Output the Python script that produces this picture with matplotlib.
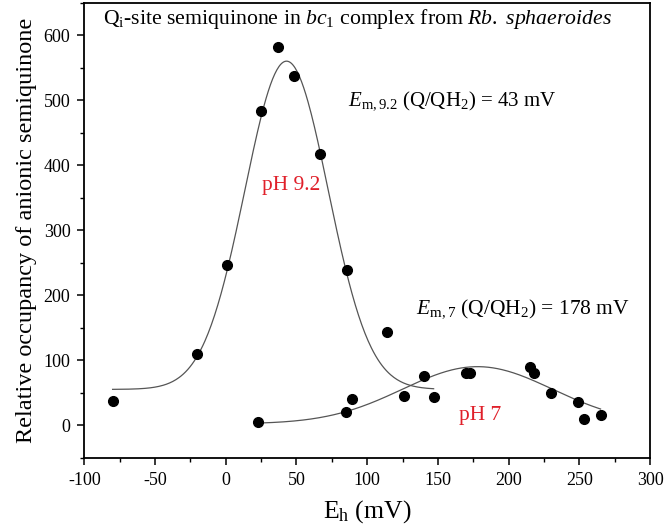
import numpy as np
import matplotlib
matplotlib.use("Agg")
import matplotlib.pyplot as plt

# ---- data ----
eh_ph92 = [-80, -20, 1, 25, 37, 48, 67, 86, 114]
sq_ph92 = [37, 110, 247, 483, 582, 537, 417, 239, 143]

eh_ph7 = [23, 85, 89, 126, 140, 147, 170, 173, 215, 218, 230, 249, 253, 265]
sq_ph7 = [5, 20, 40, 45, 75, 44, 80, 80, 90, 80, 50, 35, 10, 15]

# fitted curves (peak parameters)
fit92 = dict(center=43, amp=505, base=55, sigma=29.5, start=-80, stop=147)
fit7 = dict(center=178, amp=88, base=2, sigma=53, start=23, stop=265)

xticks = [-100, -50, 0, 50, 100, 150, 200, 250, 300]
yticks = [0, 100, 200, 300, 400, 500, 600]

plt.rcParams['font.family'] = ['Liberation Serif', 'DejaVu Serif']
plt.rcParams['mathtext.fontset'] = 'custom'
plt.rcParams['mathtext.rm'] = 'Liberation Serif'
plt.rcParams['mathtext.it'] = 'Liberation Serif:italic'
plt.rcParams['mathtext.bf'] = 'Liberation Serif:bold'
plt.rcParams['axes.unicode_minus'] = False

fig = plt.figure(figsize=(6.66, 5.30), dpi=100)
ax = fig.add_axes([0.1266, 0.1365, 0.976 - 0.1266, 0.995 - 0.1365])

def curve(p):
    x = np.linspace(p['start'], p['stop'], 300)
    return x, p['base'] + p['amp'] * np.exp(-(x - p['center'])**2 / (2 * p['sigma']**2))

for p in (fit92, fit7):
    cx, cy = curve(p)
    ax.plot(cx, cy, color='#555555', lw=0.9, zorder=2)

ax.plot(eh_ph92, sq_ph92, 'o', color='black', ms=7, zorder=3)
ax.plot(eh_ph7, sq_ph7, 'o', color='black', ms=7, zorder=3)

ax.set_xlim(-100, 300)
ax.set_ylim(-50, 650)
ax.set_xticks(xticks)
ax.set_yticks(yticks)
ax.set_xticks(np.arange(-75, 300, 50), minor=True)
ax.set_yticks(np.arange(-50, 651, 100), minor=True)
ax.tick_params(which='major', direction='out', length=5, width=1.1, labelsize=13, pad=5)
ax.tick_params(which='minor', direction='out', length=3, width=1.0)
for s in ax.spines.values():
    s.set_linewidth(1.3)

ax.set_xlabel(r'E$_\mathregular{h}$ (mV)', fontsize=18.5, labelpad=7)
ax.set_ylabel('Relative occupancy of anionic semiquinone', fontsize=17.5, labelpad=5)

ax.text(-87, 625, r'Q$_\mathregular{i}$-site semiquinone in $bc_\mathregular{1}$ complex from $Rb.\ sphaeroides$',
        fontsize=15.7, va='center', ha='left')
ax.text(86.5, 500, r'$E_\mathregular{m,9.2}$ (Q/QH$_\mathregular{2}$) = 43 mV', fontsize=15, va='center', ha='left')
ax.text(134.5, 180, r'$E_\mathregular{m,7}$ (Q/QH$_\mathregular{2}$) = 178 mV', fontsize=15.5, va='center', ha='left')
ax.text(46.5, 368, 'pH 9.2', color='#e0202a', fontsize=15.5, va='center', ha='center')
ax.text(180, 15, 'pH 7', color='#e0202a', fontsize=15.5, va='center', ha='center')

fig.savefig('out.png', dpi=100)
